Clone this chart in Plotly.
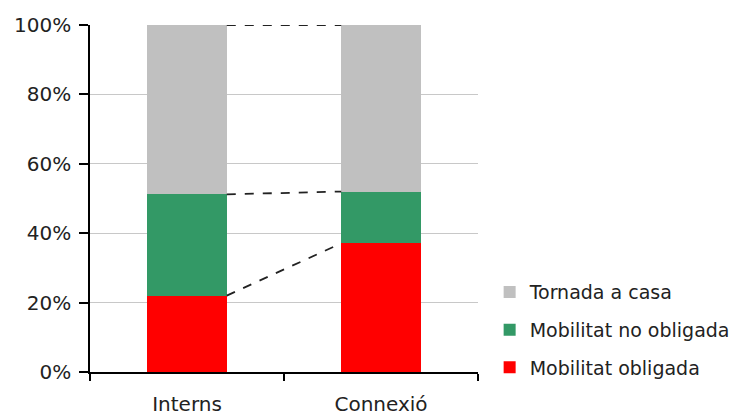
import plotly.graph_objects as go

categories = ["Interns", "Connexió"]
series_names = ["Mobilitat obligada", "Mobilitat no obligada", "Tornada a casa"]
obligada = [0.220, 0.371]
no_obligada = [0.292, 0.149]
tornada = [0.488, 0.480]
colors = ["#ff0000", "#339966", "#c0c0c0"]

values = [obligada, no_obligada, tornada]
bar_w = 0.41

fig = go.Figure()
for i, (name, vals, col) in enumerate(zip(series_names, values, colors)):
    fig.add_trace(go.Bar(
        x=categories, y=vals, name=name, width=bar_w,
        marker=dict(color=col, line=dict(width=0)),
        legendgroup=f"g{i}", legendrank=1000 - i,
    ))

# series lines connecting segment tops
cum0 = 0.0
cum1 = 0.0
for vals in values:
    cum0 += vals[0]
    cum1 += vals[1]
    fig.add_shape(type="line", xref="x", yref="y",
                  x0=0 + bar_w / 2, x1=1 - bar_w / 2, y0=cum0, y1=cum1,
                  line=dict(color="#222222", width=1.8, dash="dash"))

font = dict(family="DejaVu Sans", size=20, color="#222222")

fig.update_layout(
    barmode="stack",
    width=748, height=419,
    margin=dict(l=90, r=270, t=25, b=47, autoexpand=False),
    paper_bgcolor="white", plot_bgcolor="white",
    font=font,
    showlegend=True,
    legend=dict(x=1.03, xanchor="left", y=0.285, yanchor="top",
                traceorder="grouped", tracegroupgap=10,
                itemwidth=30, font=dict(family="DejaVu Sans", size=19, color="#222222"),
                bgcolor="rgba(0,0,0,0)"),
    xaxis=dict(type="category", range=[-0.5, 1.5], showline=True, linecolor="black",
               linewidth=1.5, ticks="outside", ticklen=7, tickwidth=1.5, tickcolor="black",
               tickson="boundaries", showgrid=False, ticklabelstandoff=13, automargin=False),
    yaxis=dict(range=[0, 1], dtick=0.2, tickformat=".0%", showline=True, linecolor="black",
               linewidth=1.5, ticks="outside", ticklen=9, tickwidth=1.5, tickcolor="black",
               showgrid=True, gridcolor="#c8c8c8", gridwidth=1, zeroline=False,
               ticklabelstandoff=4, automargin=False),
    bargap=0.59,
)

fig.write_html("out.html")
